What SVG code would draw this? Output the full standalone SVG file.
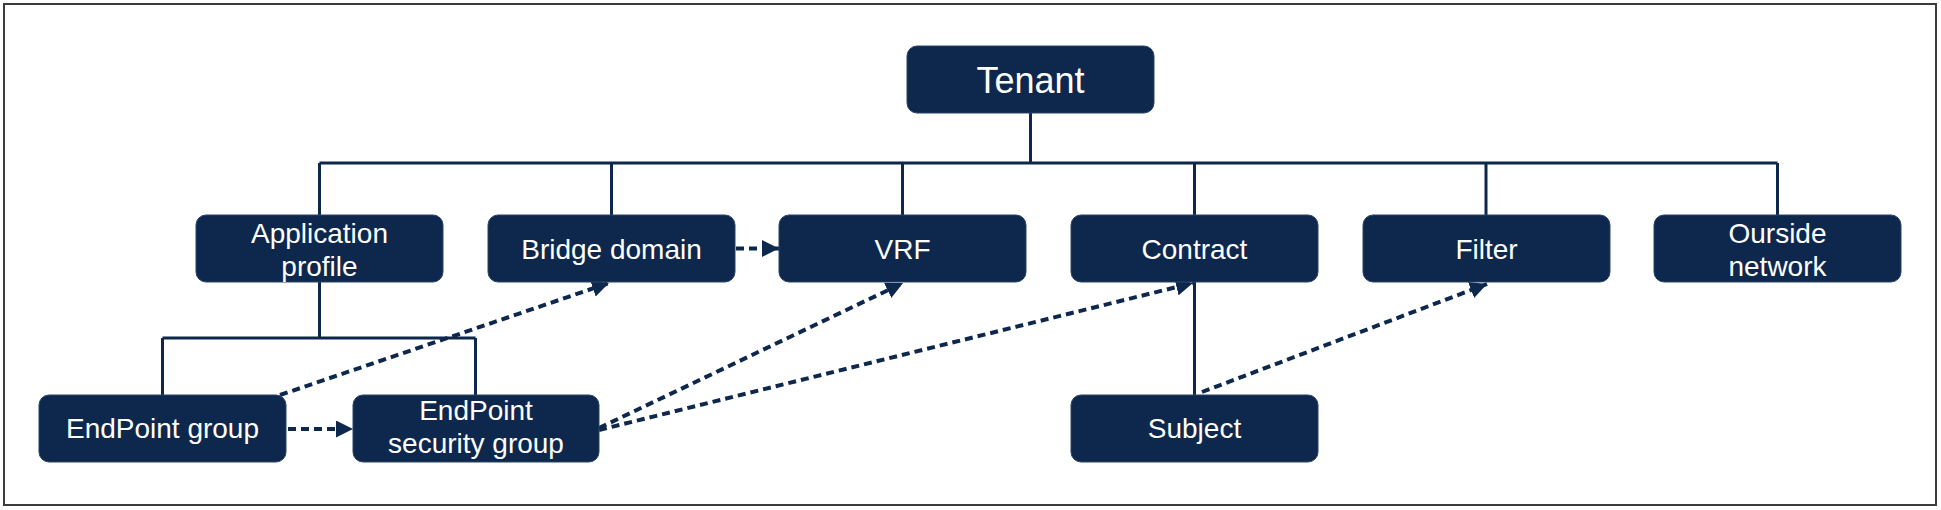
<svg xmlns="http://www.w3.org/2000/svg" width="1941" height="510" viewBox="0 0 1941 510">
  <style>
    .box { fill: #0e284d; stroke: #2a4468; stroke-width: 1; }
    .lbl { fill: #ffffff; font-family: "Liberation Sans", Arial, sans-serif; font-size: 28px; text-anchor: middle; }
    .big { font-size: 36px; }
    .tree { fill: none; stroke: #0e284d; stroke-width: 3; }
    .dash { fill: none; stroke: #0e284d; stroke-width: 4; stroke-dasharray: 8 5; }
  </style>
  <defs>
    <marker id="ah" markerUnits="userSpaceOnUse" markerWidth="17" markerHeight="17" refX="17" refY="8.5" orient="auto">
      <path d="M0,0 L17,8.5 L0,17 z" fill="#0e284d"/>
    </marker>
  </defs>
  <rect x="0" y="0" width="1941" height="510" fill="#ffffff"/>
  <rect x="4" y="4" width="1932" height="501" fill="none" stroke="#3c3c3c" stroke-width="2"/>

  <g id="connectors">
    <path class="tree" d="M1030.5,113 V163 M319.5,163 H1777.5 M319.5,163 V215 M611.5,163 V215 M902.5,163 V215 M1194.5,163 V215 M1486,163 V215 M1777.5,163 V215"/>
    <path class="tree" d="M319.5,282 V338 M162.5,338 H475.5 M162.5,338 V395 M475.5,338 V395"/>
    <path class="tree" d="M1194.5,282 V395"/>
    <line class="dash" x1="736" y1="248.5" x2="779" y2="248.5" marker-end="url(#ah)"/>
    <line class="dash" x1="288" y1="429" x2="353" y2="429" marker-end="url(#ah)"/>
    <line class="dash" x1="280" y1="395" x2="609" y2="283" marker-end="url(#ah)"/>
    <line class="dash" x1="599" y1="428" x2="903" y2="283" marker-end="url(#ah)"/>
    <line class="dash" x1="599" y1="430" x2="1193" y2="283" marker-end="url(#ah)"/>
    <line class="dash" x1="1202" y1="392" x2="1487" y2="284" marker-end="url(#ah)"/>
  </g>

  <g id="node-tenant">
    <rect class="box" x="907" y="46" width="247" height="67" rx="10"/>
    <text class="lbl big" x="1030.5" y="93">Tenant</text>
  </g>
  <g id="node-application-profile">
    <rect class="box" x="196" y="215" width="247" height="67" rx="10"/>
    <text class="lbl" x="319.5" y="243">Application</text>
    <text class="lbl" x="319.5" y="276">profile</text>
  </g>
  <g id="node-bridge-domain">
    <rect class="box" x="488" y="215" width="247" height="67" rx="10"/>
    <text class="lbl" x="611.5" y="258.5">Bridge domain</text>
  </g>
  <g id="node-vrf">
    <rect class="box" x="779" y="215" width="247" height="67" rx="10"/>
    <text class="lbl" x="902.5" y="258.5">VRF</text>
  </g>
  <g id="node-contract">
    <rect class="box" x="1071" y="215" width="247" height="67" rx="10"/>
    <text class="lbl" x="1194.5" y="258.5">Contract</text>
  </g>
  <g id="node-filter">
    <rect class="box" x="1363" y="215" width="247" height="67" rx="10"/>
    <text class="lbl" x="1486.5" y="258.5">Filter</text>
  </g>
  <g id="node-outside-network">
    <rect class="box" x="1654" y="215" width="247" height="67" rx="10"/>
    <text class="lbl" x="1777.5" y="243">Ourside</text>
    <text class="lbl" x="1777.5" y="276">network</text>
  </g>
  <g id="node-endpoint-group">
    <rect class="box" x="39" y="395" width="247" height="67" rx="10"/>
    <text class="lbl" x="162.5" y="438">EndPoint group</text>
  </g>
  <g id="node-endpoint-security-group">
    <rect class="box" x="353" y="395" width="246" height="67" rx="10"/>
    <text class="lbl" x="476" y="420">EndPoint</text>
    <text class="lbl" x="476" y="453">security group</text>
  </g>
  <g id="node-subject">
    <rect class="box" x="1071" y="395" width="247" height="67" rx="10"/>
    <text class="lbl" x="1194.5" y="438">Subject</text>
  </g>
</svg>
